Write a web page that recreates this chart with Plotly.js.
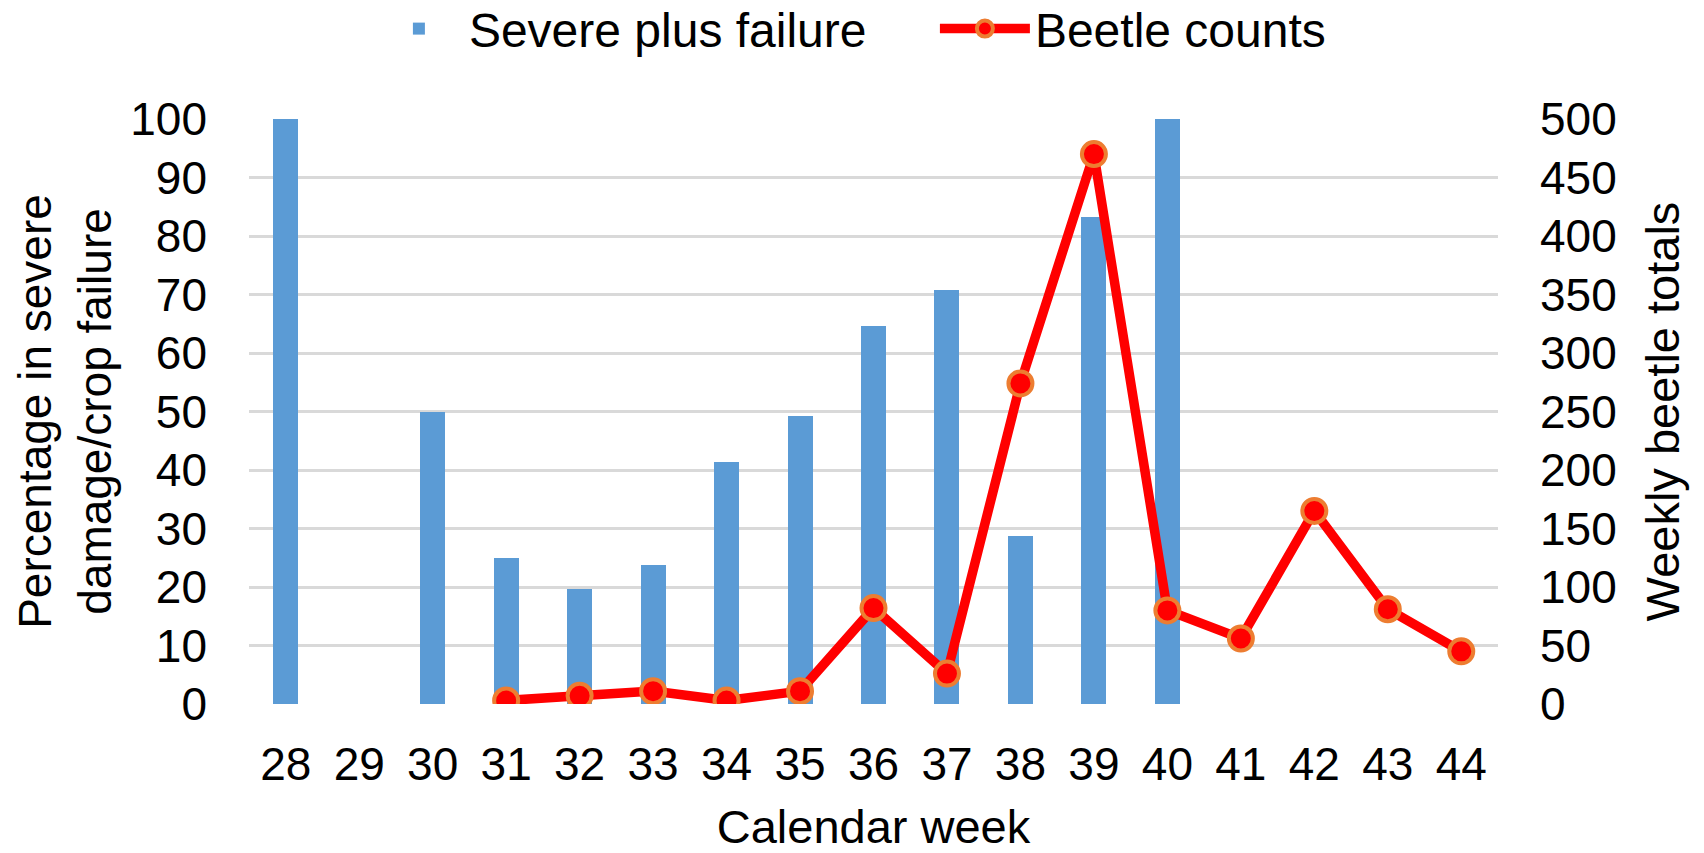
<!DOCTYPE html>
<html>
<head>
<meta charset="utf-8">
<script src="https://cdn.plot.ly/plotly-3.0.1.min.js"></script>
<style>
html,body{margin:0;padding:0;background:#fff;}
#chart{width:1704px;height:853px;}
</style>
</head>
<body>
<div id="chart"></div>
<script>
const weeks = [28, 29, 30, 31, 32, 33, 34, 35, 36, 37, 38, 39, 40, 41, 42, 43, 44];
const severePlusFailure = [100, null, 50, 25, 19.6, 23.8, 41.4, 49.3, 64.6, 70.7, 28.7, 83.3, 100, null, null, null, null];
const beetleCounts = [null, null, null, 3, 7, 11, 3, 11, 82, 26, 274, 470, 80, 56, 165, 81, 45];
const leftTicks = [0, 10, 20, 30, 40, 50, 60, 70, 80, 90, 100];
const rightTicks = [0, 50, 100, 150, 200, 250, 300, 350, 400, 450, 500];

const FONT = 'Liberation Sans, Arial, sans-serif';

const traces = [
  {
    type: 'bar',
    name: 'Severe plus failure',
    x: weeks,
    y: severePlusFailure,
    width: 0.34,
    marker: {color: '#5B9BD5'},
    yaxis: 'y',
    hoverinfo: 'x+y'
  },
  {
    type: 'scatter',
    mode: 'lines+markers',
    name: 'Beetle counts',
    x: weeks,
    y: beetleCounts,
    yaxis: 'y2',
    connectgaps: false,
    line: {color: '#FF0000', width: 9.5},
    marker: {color: '#FF0000', size: 24, line: {color: '#ED7D31', width: 4}}
  }
];

const layout = {
  width: 1704,
  height: 853,
  paper_bgcolor: '#ffffff',
  plot_bgcolor: '#ffffff',
  font: {family: FONT, color: '#000000', size: 46},
  margin: {l: 249, r: 206, t: 119, b: 149, pad: 0, autoexpand: false},
  showlegend: true,
  legend: {
    orientation: 'h',
    x: 0.096, xanchor: 'left',
    y: 1.154, yanchor: 'middle',
    font: {family: FONT, size: 48, color: '#000000'},
    itemwidth: 90,
    entrywidth: 461,
    tracegroupgap: 0,
    bgcolor: 'rgba(0,0,0,0)'
  },
  xaxis: {
    range: [27.5, 44.5],
    tickmode: 'array',
    tickvals: weeks,
    ticktext: weeks.map(String),
    showgrid: false,
    zeroline: false,
    showline: false,
    ticks: '',
    ticklabelstandoff: 29,
    tickfont: {family: FONT, size: 46, color: '#000000'},
    title: {text: 'Calendar week', font: {family: FONT, size: 47, color: '#000000'}, standoff: 42}
  },
  yaxis: {
    range: [0, 100],
    tickmode: 'array',
    tickvals: leftTicks,
    showgrid: true,
    gridcolor: '#D9D9D9',
    gridwidth: 3,
    zeroline: false,
    showline: false,
    ticks: '',
    ticklabelstandoff: 41,
    tickfont: {family: FONT, size: 46, color: '#000000'},
    title: {text: 'Percentage in severe<br>damage/crop failure', font: {family: FONT, size: 46, color: '#000000'}, standoff: 4}
  },
  yaxis2: {
    range: [0, 500],
    overlaying: 'y',
    side: 'right',
    tickmode: 'array',
    tickvals: rightTicks,
    showgrid: false,
    zeroline: false,
    showline: false,
    ticks: '',
    ticklabelstandoff: 41,
    tickfont: {family: FONT, size: 46, color: '#000000'},
    title: {text: 'Weekly beetle totals', font: {family: FONT, size: 47, color: '#000000'}, standoff: 30}
  },
  bargap: 0
};

Plotly.newPlot('chart', traces, layout, {displayModeBar: false, staticPlot: true});
</script>
</body>
</html>
